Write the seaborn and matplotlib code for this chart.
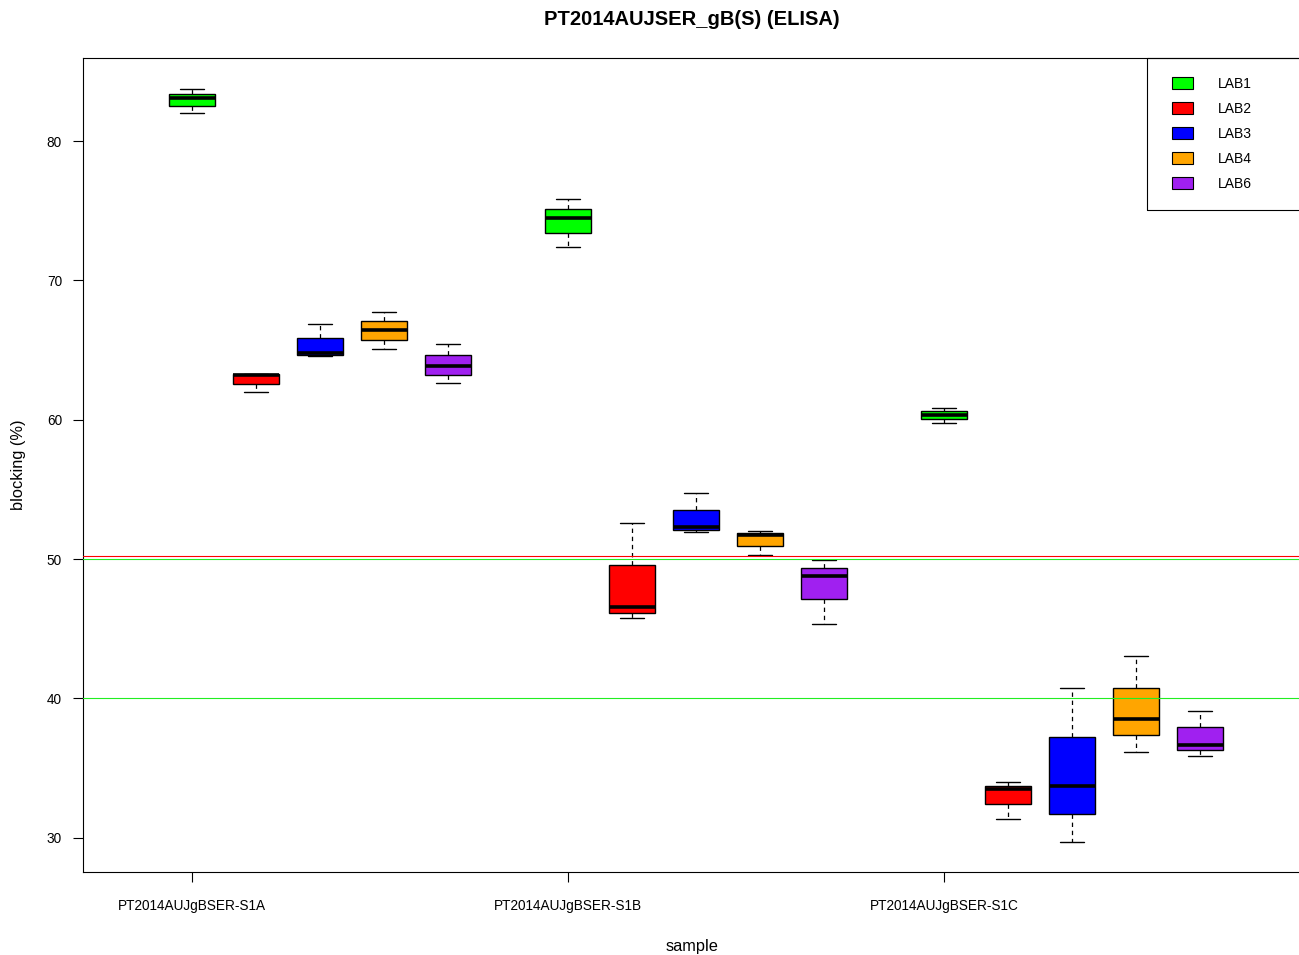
import numpy as np
import pandas as pd
import matplotlib
matplotlib.use("Agg")
import matplotlib.pyplot as plt
from matplotlib.patches import Patch, Rectangle
import seaborn as sns

# ---- data: five-number summaries per sample (rows) and lab (columns) ----
samples = ["PT2014AUJgBSER-S1A", "PT2014AUJgBSER-S1B", "PT2014AUJgBSER-S1C"]
labs = ["LAB1", "LAB2", "LAB3", "LAB4", "LAB6"]
lab_colors = ["#00FF00", "#FF0000", "#0000FF", "#FFA500", "#A020F0"]

whisker_low = [[82.00, 61.97, 64.56, 65.08, 62.64],
               [72.37, 45.76, 51.93, 50.28, 45.37],
               [59.77, 31.36, 29.71, 36.19, 35.88]]
quartile_1 = [[82.53, 62.57, 64.67, 65.75, 63.24],
              [73.42, 46.12, 52.09, 50.95, 47.12],
              [60.06, 32.44, 31.70, 37.39, 36.29]]
median = [[83.06, 63.24, 64.81, 66.44, 63.86],
          [74.48, 46.59, 52.31, 51.74, 48.77],
          [60.34, 33.49, 33.71, 38.51, 36.65]]
quartile_3 = [[83.37, 63.29, 65.89, 67.11, 64.67],
              [75.14, 49.61, 53.53, 51.88, 49.37],
              [60.63, 33.71, 37.25, 40.78, 37.94]]
whisker_high = [[83.75, 63.29, 66.87, 67.71, 65.44],
                [75.84, 52.62, 54.73, 52.02, 49.92],
                [60.87, 34.02, 40.78, 43.08, 39.13]]

cutoff_red = 50.2
cutoff_green = [50.0, 40.0]

# ---- long-form table; 5 points per box reproduce the summary exactly ----
group_step = 5.875
rows = []
for si, s in enumerate(samples):
    for li, lab in enumerate(labs):
        pos = si * group_step + li
        for stat in (whisker_low, quartile_1, median, quartile_3, whisker_high):
            rows.append({"sample": s, "lab": lab, "pos": pos, "value": stat[si][li]})
df = pd.DataFrame(rows)

sns.set_style("ticks")
plt.rcParams["font.family"] = ["Liberation Sans", "DejaVu Sans"]
plt.rcParams.update({"text.color": "black", "axes.labelcolor": "black",
                     "xtick.color": "black", "ytick.color": "black"})

W, H = 1299, 955
fig = plt.figure(figsize=(W / 100, H / 100), dpi=100)
ax_l, ax_r, ax_t, ax_b = 83, 1309, 58, 872
ax = fig.add_axes([ax_l / W, (H - ax_b) / H, (ax_r - ax_l) / W, (ax_b - ax_t) / H])

sns.boxplot(
    data=df, x="pos", y="value", hue="lab",
    palette=dict(zip(labs, lab_colors)), hue_order=labs,
    native_scale=True, dodge=False, width=0.72, whis=(0, 100),
    saturation=1, linecolor="black", linewidth=1.0, legend=False,
    medianprops={"linewidth": 2.6, "color": "black"},
    whiskerprops={"linestyle": (0, (3.5, 3)), "linewidth": 0.9},
    capprops={"linewidth": 1.0},
    ax=ax,
)

# reference lines
ax.axhline(cutoff_red, color="#FF0000", linewidth=0.8, zorder=5)
for g in cutoff_green:
    ax.axhline(g, color="#22EE22", linewidth=0.8, zorder=5)

# axis ranges and ticks
all_vals = df["value"].to_numpy()
vmin, vmax = all_vals.min(), all_vals.max()
ext = 0.04 * (vmax - vmin)
ax.set_ylim(vmin - ext, vmax + ext + 0.05)
ax.set_xlim(-1.703, 17.453)
ax.set_xticks([i * group_step for i in range(len(samples))])
ax.set_xticklabels(samples, fontsize=9.8)
ax.set_yticks([30, 40, 50, 60, 70, 80])
ax.set_yticklabels(["30", "40", "50", "60", "70", "80"], fontsize=9.8)
ax.tick_params(axis="x", length=7.2, width=0.8, pad=12, color="black")
ax.tick_params(axis="y", length=7.2, width=0.8, pad=8, color="black")

for sp in ax.spines.values():
    sp.set_visible(True)
    sp.set_linewidth(0.8)
    sp.set_color("black")

ax.set_xlabel("sample", fontsize=11.8)
ax.set_ylabel("blocking (%)", fontsize=11.8)
ax.xaxis.set_label_coords(0.5 - 4 / (ax_r - ax_l), -(939 - ax_b) / (ax_b - ax_t))
ax.yaxis.set_label_coords((26 - ax_l) / (ax_r - ax_l), 0.5)
ax.set_title("PT2014AUJSER_gB(S) (ELISA)", fontsize=14.5, fontweight="bold",
             pad=23.5, x=(692 - ax_l) / (ax_r - ax_l))

# legend with a square frame in the top-right corner
fig.add_artist(Rectangle((1147 / W, (H - 210) / H), (ax_r - 1147) / W, 152 / H,
                         transform=fig.transFigure, fill=False,
                         edgecolor="black", linewidth=0.8, zorder=10))
handles = [Patch(facecolor=c, edgecolor="black", linewidth=0.8) for c in lab_colors]
fig.legend(handles, labs, loc="upper left",
           bbox_to_anchor=(1172 / W, (H - 76.5) / H), bbox_transform=fig.transFigure,
           frameon=False, borderpad=0, borderaxespad=0, fontsize=10,
           handlelength=1.5, handleheight=0.95, handletextpad=1.8, labelspacing=0.8)

fig.savefig("out.png", dpi=100)
